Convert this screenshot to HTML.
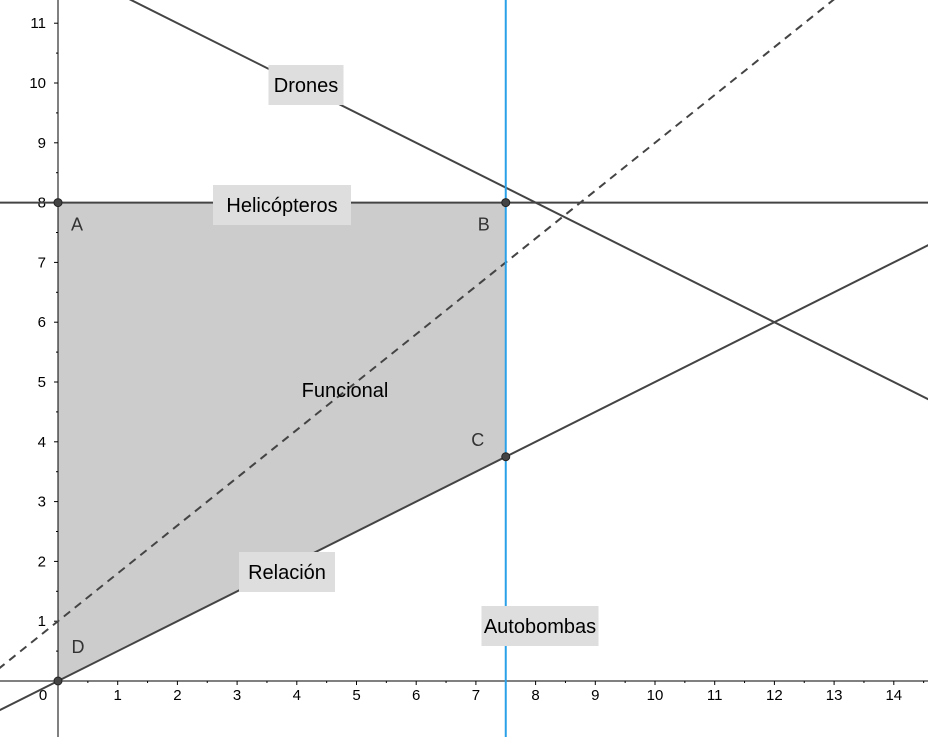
<!DOCTYPE html>
<html><head><meta charset="utf-8"><style>
body{margin:0;background:#fff}
svg{display:block;font-family:"Liberation Sans",sans-serif}
</style></head><body>
<svg id="chart" width="928" height="737"></svg>
<script>
const xTicks=[0,1,2,3,4,5,6,7,8,9,10,11,12,13,14];
const yTicks=[1,2,3,4,5,6,7,8,9,10,11];
const feasibleX=[0,7.5,7.5,0];
const feasibleY=[8,8,3.75,0];
const pointNames=["A","B","C","D"];
const lineSlopes=[-0.5,0.5,0.8];
const lineIntercepts=[12,0,1];
const lineNames=["drones-line","relacion-line","funcional-line"];
const helicopterosY=8;
const autobombasX=7.5;
const NS="http://www.w3.org/2000/svg";
const svg=document.getElementById('chart');
const X=v=>58+59.7*v, Y=v=>681-59.8*v;
function el(t,a,p){const e=document.createElementNS(NS,t);for(const k in a)e.setAttribute(k,a[k]);(p||svg).appendChild(e);return e;}
const poly=el('polygon',{points:feasibleX.map((x,i)=>X(x)+','+Y(feasibleY[i])).join(' '),fill:'#cccccc'});


const xa=el('line',{x1:0,y1:Y(0),x2:928,y2:Y(0),stroke:'#000','stroke-width':1});


const ya=el('line',{x1:X(0),y1:0,x2:X(0),y2:737,stroke:'#000','stroke-width':1});


for(let v=0.5;v<15;v+=0.5){const big=Number.isInteger(v);el('line',{x1:X(v),y1:Y(0),x2:X(v),y2:Y(0)+(big?4:2),stroke:'#000'});}
for(let v=0.5;v<12;v+=0.5){const big=Number.isInteger(v);el('line',{x1:X(0)-(big?4:2),y1:Y(v),x2:X(0),y2:Y(v),stroke:'#000'});}
xTicks.forEach(v=>{const t=el('text',{x:v===0?43:X(v),y:Y(0)+19,'font-size':15,'text-anchor':'middle'});t.textContent=v;

});
yTicks.forEach(v=>{const t=el('text',{x:46,y:Y(v)+5,'font-size':15,'text-anchor':'end'});t.textContent=v;

});
lineSlopes.forEach((m,i)=>{const x1=-1,x2=16;const l=el('line',{x1:X(x1),y1:Y(m*x1+lineIntercepts[i]),x2:X(x2),y2:Y(m*x2+lineIntercepts[i]),stroke:'#444','stroke-width':2});
if(i===2)l.setAttribute('stroke-dasharray','8,6');

});
const hl=el('line',{x1:0,y1:Y(helicopterosY),x2:928,y2:Y(helicopterosY),stroke:'#444','stroke-width':2});


const vl=el('line',{x1:X(autobombasX),y1:0,x2:X(autobombasX),y2:737,stroke:'#2aa0e8','stroke-width':2});


const labels=[["Drones",306,85],["Helicópteros",282,205],["Funcional",345,390],["Relación",287,572],["Autobombas",540,626]];
labels.forEach(([s,cx,cy])=>{const g=el('g',{});


const t=el('text',{x:cx,y:cy+7,'font-size':20,'text-anchor':'middle'},g);t.textContent=s;
if(s!=="Funcional"){const w=s.length*10.5+12;el('rect',{x:cx-w/2,y:cy-20,width:w,height:40,fill:'#dedede'},g);g.appendChild(t);}
});
const off=[[19,22],[-22,22],[-28,-17],[20,-34]];
feasibleX.forEach((x,i)=>{const c=el('circle',{cx:X(x),cy:Y(feasibleY[i]),r:4,fill:'#444',stroke:'#222'});


const t=el('text',{x:X(x)+off[i][0],y:Y(feasibleY[i])+off[i][1]+6,'font-size':18,'text-anchor':'middle',fill:'#333'});t.textContent=pointNames[i];

});
</script>
</body></html>
